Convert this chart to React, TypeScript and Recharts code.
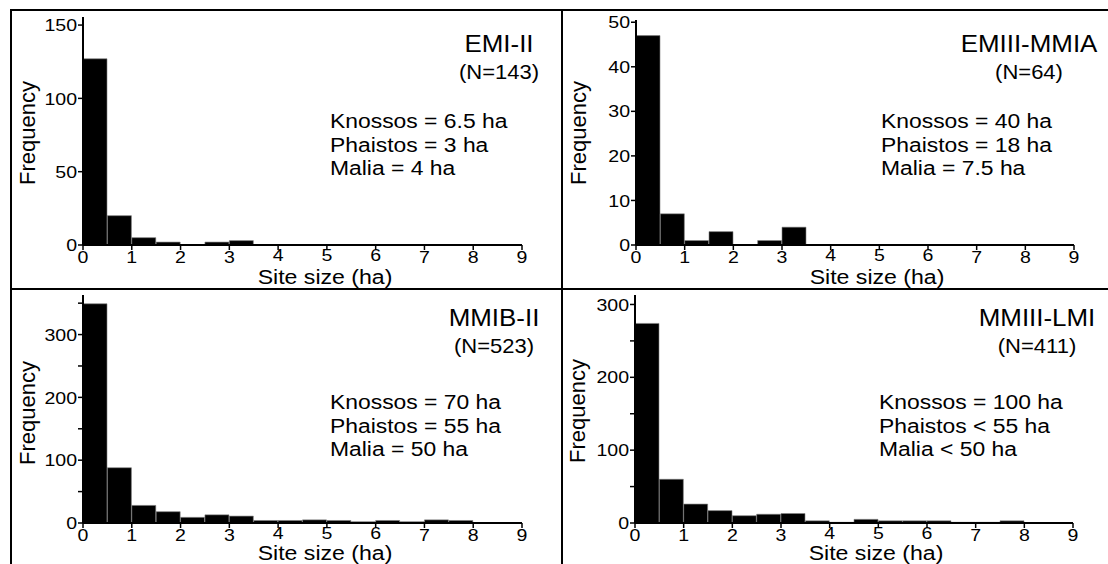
import React from "react";
import { BarChart, Bar, XAxis, YAxis } from "recharts";

// ---- data ----
const binCenters = [0.25, 0.75, 1.25, 1.75, 2.25, 2.75, 3.25, 3.75, 4.25, 4.75, 5.25, 5.75, 6.25, 6.75, 7.25, 7.75, 8.25, 8.75];
const xTickValues = [0, 1, 2, 3, 4, 5, 6, 7, 8, 9];
const raisedXTicks = [4, 5, 6];

const emiII = [127, 20, 5, 2, 0, 2, 3, 0, 0, 0, 0, 0, 0, 0, 0, 0, 0, 0];
const emiiiMmia = [47, 7, 1, 3, 0, 1, 4, 0, 0, 0, 0, 0, 0, 0, 0, 0, 0, 0];
const mmibII = [349, 88, 28, 18, 9, 13, 11, 4, 4, 5, 4, 2, 4, 2, 5, 4, 0, 0];
const mmiiiLmi = [274, 60, 26, 17, 10, 12, 13, 3, 1, 5, 3, 3, 3, 1, 1, 3, 0, 0];

const yTicksEmiII = [0, 50, 100, 150];
const yTicksEmiiiMmia = [0, 10, 20, 30, 40, 50];
const yTicksMmibII = [0, 50, 100, 150, 200, 250, 300, 350];
const yTicksMmiiiLmi = [0, 50, 100, 150, 200, 250, 300];

const titles = ["EMI-II", "EMIII-MMIA", "MMIB-II", "MMIII-LMI"];
const counts = ["(N=143)", "(N=64)", "(N=523)", "(N=411)"];
const notes = [
  ["Knossos = 6.5 ha", "Phaistos = 3 ha", "Malia = 4 ha"],
  ["Knossos = 40 ha", "Phaistos = 18 ha", "Malia = 7.5 ha"],
  ["Knossos = 70 ha", "Phaistos = 55 ha", "Malia = 50 ha"],
  ["Knossos = 100 ha", "Phaistos < 55 ha", "Malia < 50 ha"],
];
const xLabel = "Site size (ha)";
const yLabel = "Frequency";

const FONT = "'Liberation Sans', Arial, Helvetica, sans-serif";

const toRows = (vals: number[]) => binCenters.map((x, i) => ({ x, n: vals[i] }));

type HistProps = {
  vals: number[];
  yMax: number;
  yTicks: number[];
  labelStep: number;
  plotLeft: number;
  plotTop: number;
  plotW: number;
  plotH: number;
};

function Hist({ vals, yMax, yTicks, labelStep, plotLeft, plotTop, plotW, plotH }: HistProps) {
  const data = toRows(vals);
  const XTick = (p: any) => {
    const v = p.payload.value;
    const up = raisedXTicks.includes(v) ? -2.5 : 0;
    return (
      <text
        transform={`translate(${p.x},${p.y + up}) scale(1.15,1)`}
        textAnchor="middle"
        dy="0.72em"
        fontSize={17}
        fontFamily={FONT}
        fill="#000"
      >
        {v}
      </text>
    );
  };
  const YTick = (p: any) => {
    const v = p.payload.value;
    if (v % labelStep !== 0) return <g />;
    return (
      <text
        transform={`translate(${p.x},${p.y}) scale(1.15,1)`}
        textAnchor="end"
        dy="0.36em"
        fontSize={17}
        fontFamily={FONT}
        fill="#000"
      >
        {v}
      </text>
    );
  };
  return (
    <div style={{ position: "absolute", left: plotLeft - 60, top: plotTop - 10 }}>
      <BarChart
        width={plotW + 70}
        height={plotH + 50}
        data={data}
        margin={{ top: 10, right: 10, left: 0, bottom: 0 }}
        barCategoryGap={0}
        barGap={0}
      >
        <XAxis
          dataKey="x"
          type="number"
          domain={[0, 9]}
          ticks={xTickValues}
          interval={0}
          height={40}
          allowDataOverflow
          axisLine={{ stroke: "#000", strokeWidth: 2 }}
          tickLine={{ stroke: "#000", strokeWidth: 1.5 }}
          tickSize={5}
          tickMargin={1}
          tick={XTick}
        />
        <YAxis
          type="number"
          domain={[0, yMax]}
          ticks={yTicks}
          interval={0}
          width={60}
          allowDataOverflow
          axisLine={{ stroke: "#000", strokeWidth: 2 }}
          tickLine={{ stroke: "#000", strokeWidth: 1.5 }}
          tickSize={5}
          tickMargin={1}
          tick={YTick}
        />
        <Bar dataKey="n" fill="#000" stroke="#808080" strokeWidth={0.6} isAnimationActive={false} />
      </BarChart>
    </div>
  );
}

type Anno = {
  titleCx: number;
  titleY: number;
  notesX: number;
  notesY: number;
  xLabelCx: number;
  xLabelY: number;
  yLabelX: number;
  yLabelCy: number;
};

const annos: Anno[] = [
  { titleCx: 499, titleY: 52, notesX: 330, notesY: 128, xLabelCx: 325, xLabelY: 284, yLabelX: 35, yLabelCy: 133 },
  { titleCx: 1029, titleY: 52, notesX: 881, notesY: 128, xLabelCx: 877, xLabelY: 284, yLabelX: 586, yLabelCy: 133 },
  { titleCx: 494, titleY: 326, notesX: 330, notesY: 409, xLabelCx: 325, xLabelY: 560, yLabelX: 35, yLabelCy: 413 },
  { titleCx: 1037, titleY: 326, notesX: 879, notesY: 409, xLabelCx: 876, xLabelY: 560, yLabelX: 585, yLabelCy: 411 },
];

export default function App() {
  return (
    <div
      style={{
        position: "absolute",
        left: 0,
        top: 0,
        width: 1108,
        height: 564,
        background: "#fff",
        overflow: "hidden",
        fontFamily: FONT,
      }}
    >
      <Hist vals={emiII} yMax={155.5} yTicks={yTicksEmiII} labelStep={50} plotLeft={83} plotTop={17} plotW={439} plotH={228} />
      <Hist vals={emiiiMmia} yMax={50.5} yTicks={yTicksEmiiiMmia} labelStep={10} plotLeft={636} plotTop={20} plotW={438} plotH={225} />
      <Hist vals={mmibII} yMax={363} yTicks={yTicksMmibII} labelStep={100} plotLeft={83} plotTop={295} plotW={439} plotH={228} />
      <Hist vals={mmiiiLmi} yMax={313} yTicks={yTicksMmiiiLmi} labelStep={100} plotLeft={635} plotTop={295} plotW={438} plotH={228} />
      <svg
        width={1108}
        height={564}
        style={{ position: "absolute", left: 0, top: 0, pointerEvents: "none" }}
      >
        <line x1={11} y1={10} x2={1108} y2={10} stroke="#000" strokeWidth={2} />
        <line x1={11} y1={9} x2={11} y2={564} stroke="#000" strokeWidth={2} />
        <line x1={562} y1={9} x2={562} y2={564} stroke="#000" strokeWidth={2} />
        <line x1={11} y1={289} x2={1108} y2={289} stroke="#000" strokeWidth={2} />
        {annos.map((a, i) => (
          <g key={i} fontFamily={FONT} fill="#000">
            <text transform={`translate(${a.titleCx},${a.titleY}) scale(1.08,1)`} textAnchor="middle" fontSize={24}>
              {titles[i]}
            </text>
            <text transform={`translate(${a.titleCx},${a.titleY + 27}) scale(1.1,1)`} textAnchor="middle" fontSize={20}>
              {counts[i]}
            </text>
            {notes[i].map((t, j) => (
              <text key={j} transform={`translate(${a.notesX},${a.notesY + j * 23.5}) scale(1.09,1)`} fontSize={21}>
                {t}
              </text>
            ))}
            <text transform={`translate(${a.xLabelCx},${a.xLabelY}) scale(1.1,1)`} textAnchor="middle" fontSize={21}>
              {xLabel}
            </text>
            <text transform={`translate(${a.yLabelX},${a.yLabelCy}) rotate(-90)`} textAnchor="middle" fontSize={22}>
              {yLabel}
            </text>
          </g>
        ))}
      </svg>
    </div>
  );
}
